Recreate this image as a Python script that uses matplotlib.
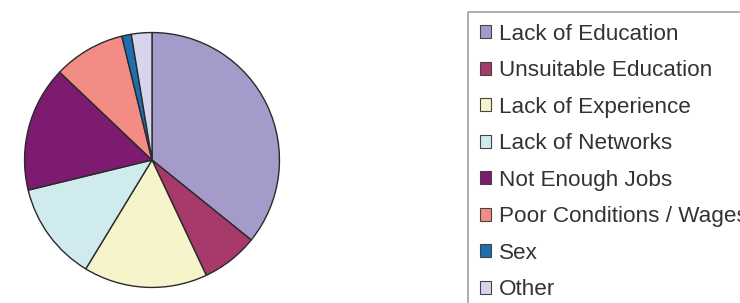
import matplotlib.pyplot as plt
from matplotlib.patches import Patch

# Reasons for unemployment (percent)
categories = [
    "Lack of Education",
    "Unsuitable Education",
    "Lack of Experience",
    "Lack of Networks",
    "Not Enough Jobs",
    "Poor Conditions / Wages",
    "Sex",
    "Other",
]
shares = [35.8, 7.2, 15.7, 12.5, 15.9, 9.1, 1.2, 2.6]
colors = ["#A49BCB", "#A8396B", "#F6F4CB", "#CFEBEE",
          "#7C1B6F", "#F28C85", "#1F6EB2", "#D7D5EE"]

W, H = 740, 303
fig = plt.figure(figsize=(W / 100, H / 100), dpi=100)

# pie: centre (152, 160) px, radius 130 px
cx, cy, r = 152, 160, 130
ax = fig.add_axes([(cx - r) / W, (H - cy - r) / H, 2 * r / W, 2 * r / H])
ax.pie(shares, colors=colors, startangle=90, counterclock=False,
       wedgeprops=dict(edgecolor="#2a2a2a", linewidth=1.0))
ax.set_xlim(-1.02, 1.02)
ax.set_ylim(-1.02, 1.02)
ax.set_aspect("equal")
ax.axis("off")

# legend runs off the right and bottom edges, as in the original
handles = [Patch(facecolor=c, edgecolor="#444444", linewidth=0.8) for c in colors]
leg = fig.legend(handles, categories, loc="upper left",
                 bbox_to_anchor=(468 / W, 1 - 12 / H),
                 prop={"family": "Liberation Sans", "size": 16.2},
                 frameon=True, fancybox=False, edgecolor="#888888",
                 labelspacing=0.69, handlelength=0.5, handleheight=0.5,
                 handletextpad=0.36, borderpad=0.52, borderaxespad=0.0)
leg.get_frame().set_linewidth(1.2)
for t in leg.get_texts():
    t.set_color("#333333")

fig.savefig("out.png", dpi=100)
